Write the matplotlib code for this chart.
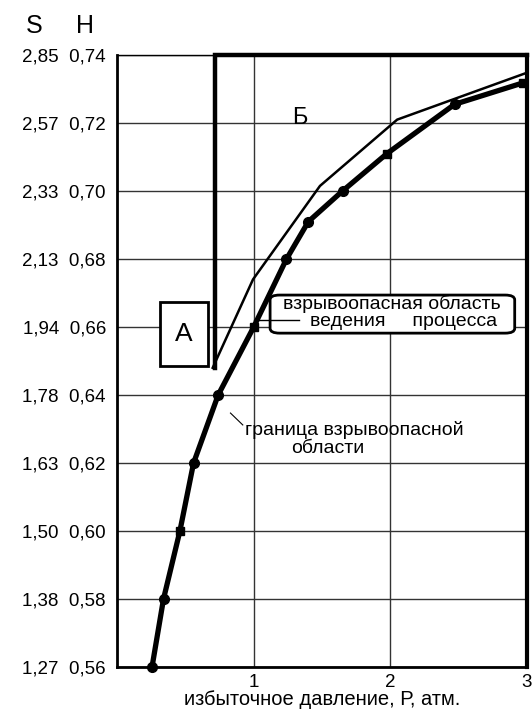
import numpy as np
import matplotlib.pyplot as plt
from matplotlib.patches import Rectangle, FancyBboxPatch

plt.rcParams['font.family'] = ['Liberation Sans', 'DejaVu Sans']

# scales: S and H share the same horizontal lines
s_ticks = ['1,27', '1,38', '1,50', '1,63', '1,78', '1,94', '2,13', '2,33', '2,57', '2,85']
h_ticks = [0.56, 0.58, 0.60, 0.62, 0.64, 0.66, 0.68, 0.70, 0.72, 0.74]
p_ticks = [1, 2, 3]

# граница взрывоопасной области (thick curve)
border_p = [0.256, 0.34, 0.46, 0.56, 0.74, 1.00, 1.24, 1.40, 1.65, 1.975, 2.47, 2.97]
border_h = [0.560, 0.580, 0.600, 0.620, 0.640, 0.660, 0.680, 0.691, 0.700, 0.711, 0.7255, 0.7318]
border_mk = ['o', 'o', 's', 'o', 'o', 's', 'o', 'o', 'o', 's', 'o', 's']

# upper edge of region Б (thin line)
upper_p = [0.70, 0.995, 1.485, 2.05, 3.0]
upper_h = [0.648, 0.674, 0.7015, 0.721, 0.7348]

# thick frame of region Б
frame_p = [0.72, 0.72, 3.0]
frame_h = [0.648, 0.74, 0.74]

fig = plt.figure(figsize=(5.32, 7.09), dpi=100)
ax = fig.add_axes([0.220, 0.0592, 0.7706, 0.8632])
ax.set_xlim(0, 3)
ax.set_ylim(0.56, 0.74)

ax.set_xticks(p_ticks)
ax.set_xticklabels([str(p) for p in p_ticks], fontsize=13.5)
ax.set_yticks(h_ticks)
ax.set_yticklabels(['%s  %s' % (s, ('%.2f' % h).replace('.', ',')) for s, h in zip(s_ticks, h_ticks)],
                   fontsize=13.5)
ax.tick_params(length=0, pad=8)
ax.tick_params(axis='x', pad=5)
ax.grid(True, color='#333333', lw=1.0)
ax.set_axisbelow(True)

for side in ['left', 'bottom']:
    ax.spines[side].set_linewidth(2.0)
ax.spines['top'].set_linewidth(1.0)
ax.spines['right'].set_linewidth(3.0)

ax.set_xlabel('избыточное давление, Р, атм.', fontsize=14.5, labelpad=-1)

# region Б
ax.plot(frame_p, frame_h, color='black', lw=3.2, solid_joinstyle='miter', zorder=4, clip_on=False)
ax.plot(upper_p, upper_h, color='black', lw=1.8, zorder=4)
ax.text(1.34, 0.7215, 'Б', fontsize=17, ha='center', va='center')

# boundary curve
ax.plot(border_p, border_h, color='black', lw=3.8, zorder=5, clip_on=False)
for p, h, m in zip(border_p, border_h, border_mk):
    ax.plot(p, h, marker=m, ms=7 if m == 'o' else 6, color='black', zorder=6, clip_on=False)

# region A box
ax.add_patch(Rectangle((0.315, 0.6485), 0.351, 0.0189, facecolor='white', edgecolor='black',
                       lw=2.0, zorder=5))
ax.text(0.49, 0.6579, 'A', fontsize=19, ha='center', va='center', zorder=6)

# label box
ax.add_patch(FancyBboxPatch((1.12, 0.6582), 1.79, 0.0112, boxstyle='round,pad=0,rounding_size=0.07',
                            facecolor='white', edgecolor='black', lw=2.0, zorder=5,
                            mutation_aspect=0.02))
ax.plot([1.0, 1.33], [0.6621, 0.6621], color='black', lw=1.0, zorder=6)
ax.text(2.01, 0.6668, 'взрывоопасная область', fontsize=14, ha='center', va='center', zorder=7)
ax.text(2.10, 0.6615, 'ведения     процесса', fontsize=14, ha='center', va='center', zorder=7)

# boundary label
ax.plot([0.83, 0.92], [0.6347, 0.6312], color='black', lw=0.8, zorder=6)
ax.text(0.935, 0.6297, 'граница взрывоопасной', fontsize=14, ha='left', va='center')
ax.text(1.54, 0.6244, 'области', fontsize=14, ha='center', va='center')

# column headers
fig.text(34.5 / 532, 1 - 26 / 709, 'S', fontsize=18, ha='center', va='center')
fig.text(85.5 / 532, 1 - 26 / 709, 'Н', fontsize=18, ha='center', va='center')

fig.savefig('out.png', dpi=100)
